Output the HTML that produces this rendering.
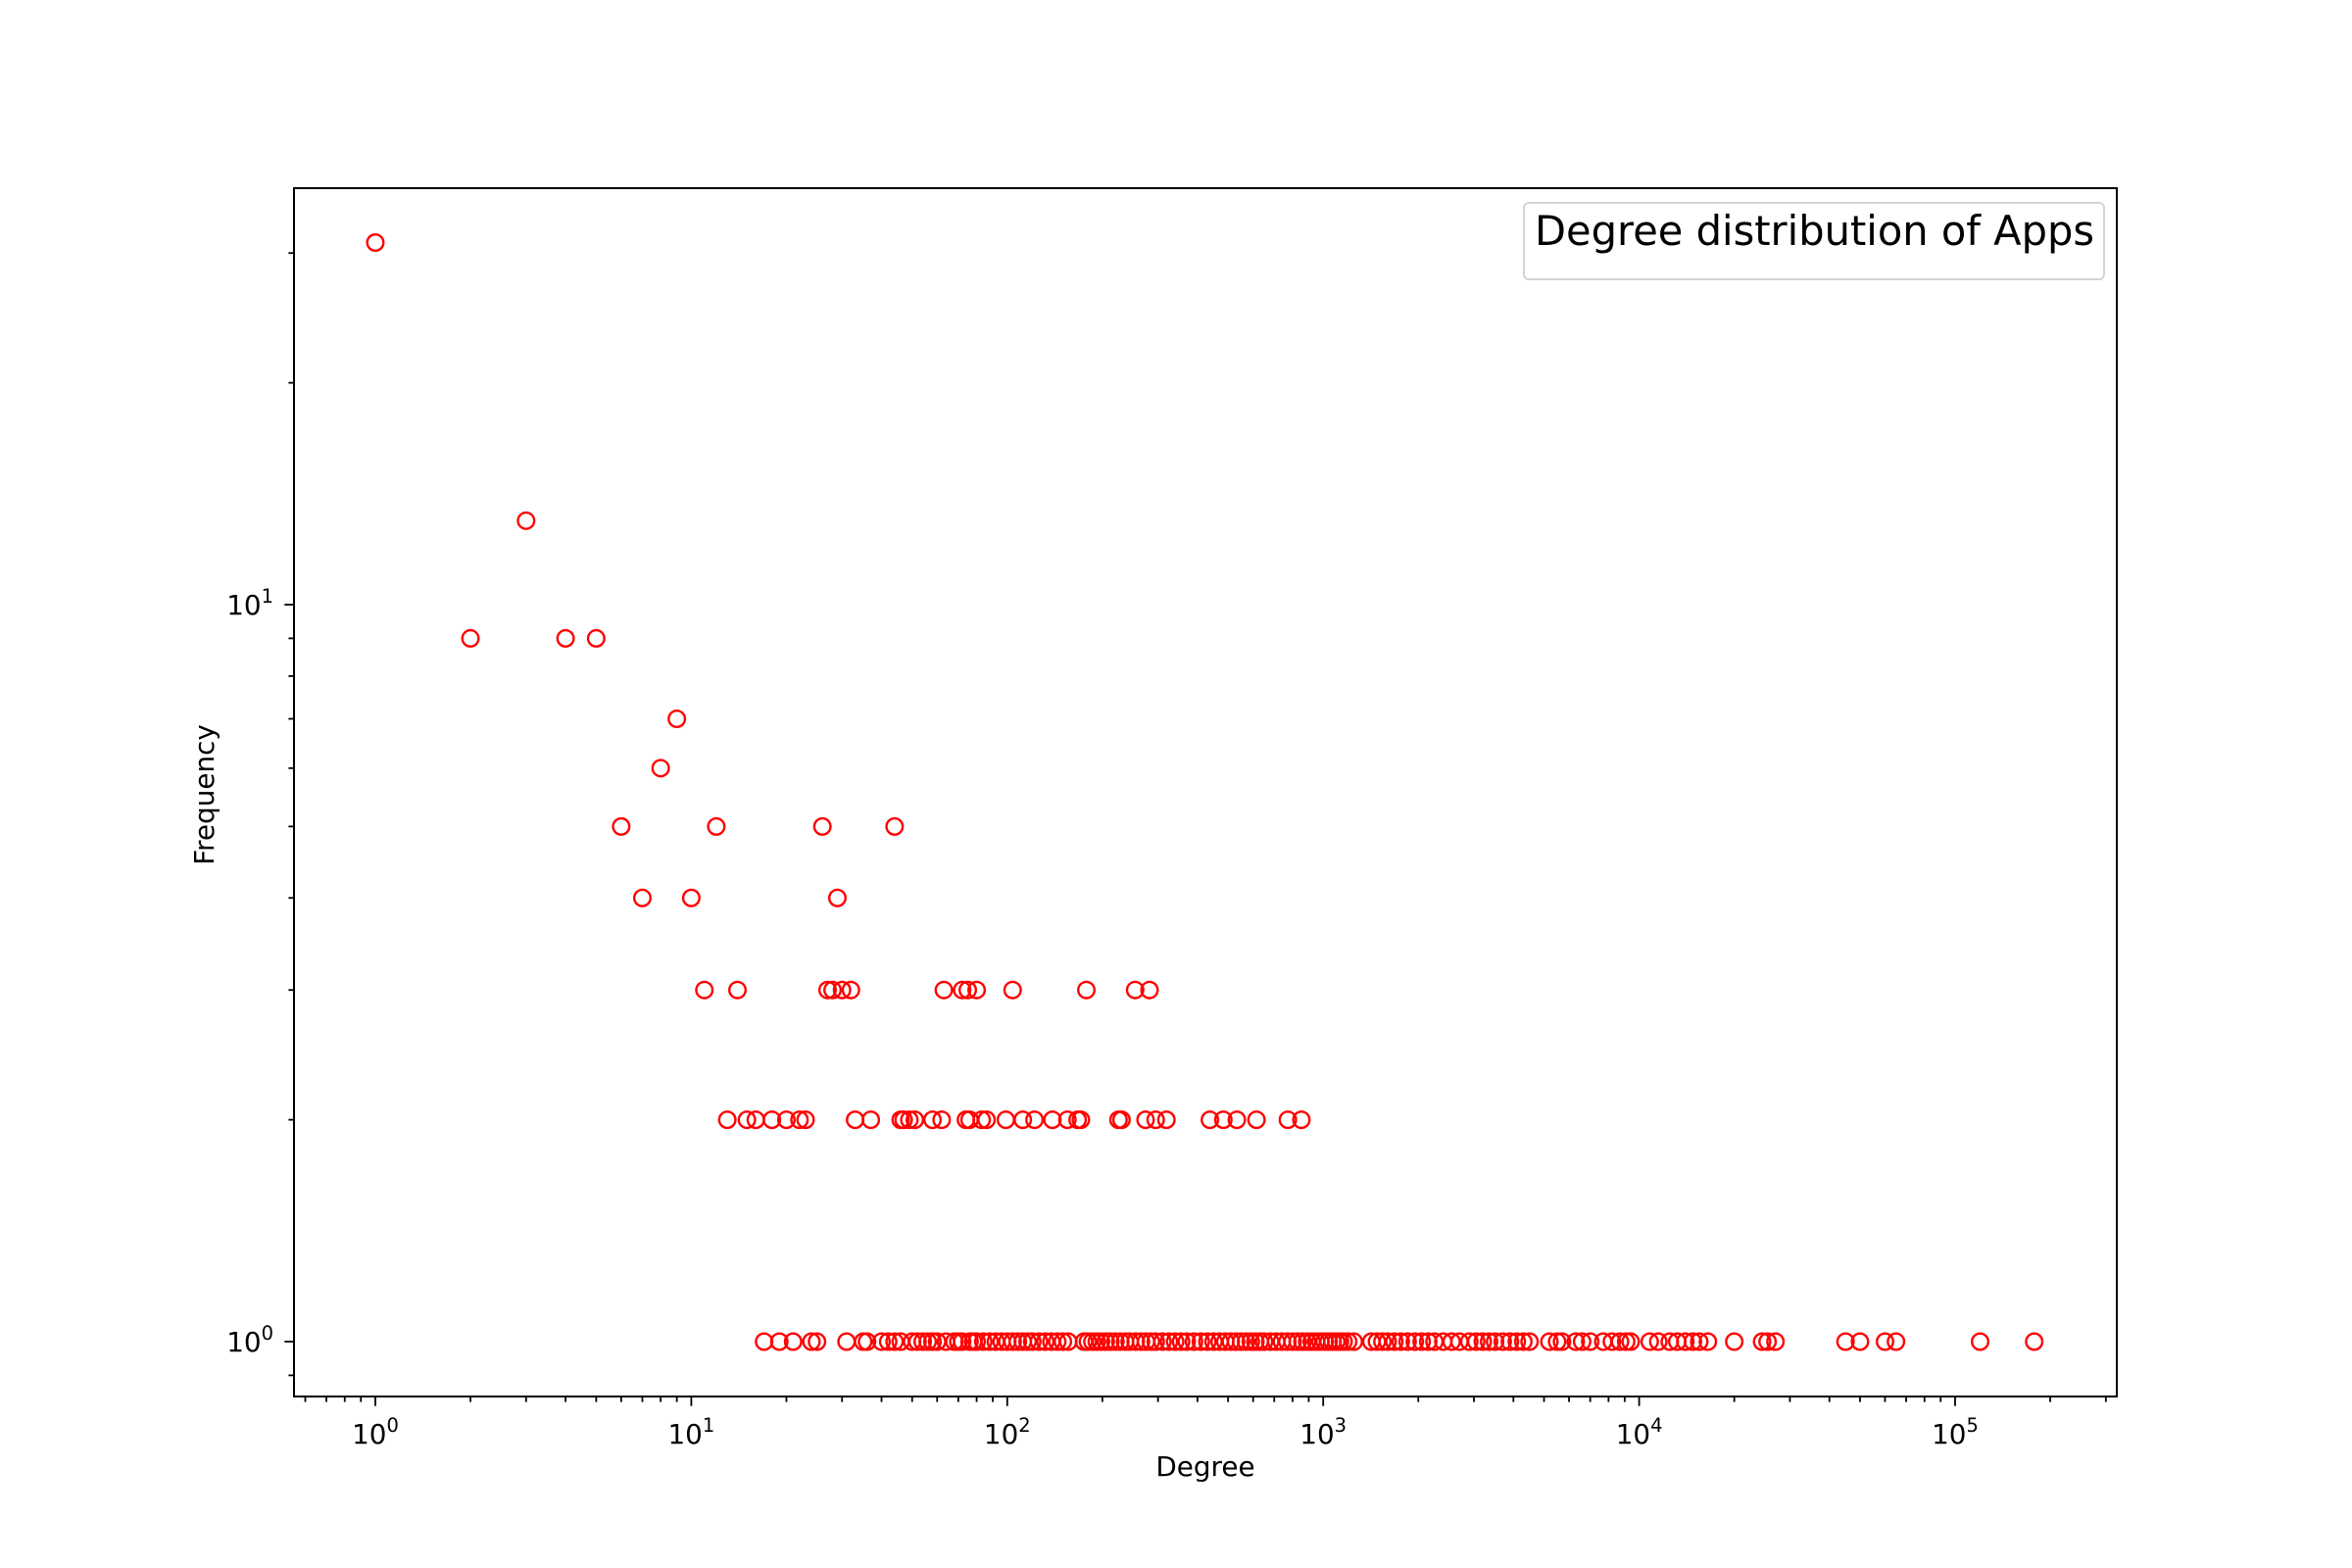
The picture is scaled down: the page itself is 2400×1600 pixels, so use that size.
<!DOCTYPE html>
<html><head><meta charset="utf-8"><style>
html,body{margin:0;padding:0;background:#fff;}
svg{display:block;font-family:"DejaVu Sans","Liberation Sans",sans-serif;}
</style></head><body>
<svg id="chart" width="2400" height="1600" viewBox="0 0 2400 1600" xmlns="http://www.w3.org/2000/svg">
<rect width="2400" height="1600" fill="#fff"/>
<g id="ticks"></g>
<g id="marks"></g>
<rect x="300" y="192" width="1860" height="1233" fill="none" stroke="#000" stroke-width="2"/>
<text x="1230" y="1506" font-size="27.8" text-anchor="middle">Degree</text>
<text transform="translate(218,811) rotate(-90)" font-size="27.8" text-anchor="middle">Frequency</text>
<g>
<rect x="1555" y="207" width="592" height="78" rx="5" fill="#fff" stroke="#d4d4d4" stroke-width="2"/>
<text x="1566" y="250" font-size="41.6">Degree distribution of Apps</text>
</g>
</svg>
<script>
// data
const freqLevels = [31, 9, 13, 9, 9, 5, 4, 6, 7, 4, 3, 5, 3, 5, 4, 5, 3, 3, 3, 3, 3, 3, 3, 3, 3, 3, 3];
const degreesHigh = [1, 2, 3, 4, 5, 6, 7, 8, 9, 10, 11, 12, 14, 26, 29, 44, 27, 28, 30, 32, 63, 72, 75, 80, 104, 178, 254];
const degreesHighExtra = [282];
const degreesFreq2 = [13,15,16,18,20,22,23,33,37,46,47,49,51,58,62,74,76,83,86,99,112,122,139,155,167,171,225,230,274,295,319,438,483,533,615,773,853];
const degreesFreq1 = [17,19,21,24,25,31,35,36,40,42,44,46,50,52,54,56,58,60,64,68,70,72,76,78,80,84,88,92,96,100,104,108,112,116,120,126,132,138,144,150,156,175,180,186,192,198,205,212,220,228,236,244,255,265,275,285,295,310,325,340,355,370,390,410,430,450,470,490,510,530,550,570,590,610,630,650,680,710,740,770,800,830,860,890,920,950,980,1010,1040,1070,1100,1130,1160,1200,1250,1420,1480,1540,1600,1680,1760,1850,1950,2050,2150,2250,2400,2550,2700,2900,3050,3200,3350,3500,3700,3900,4100,4300,4500,5200,5500,5700,6300,6600,7000,7700,8200,8700,9100,9400,10800,11500,12500,13200,14000,14800,15500,16500,20000,24500,25500,27000,45000,50000,60000,65000,120000,178000];
const xTickExps = [0,1,2,3,4,5];
const yTickExps = [0,1];

const NS = "http://www.w3.org/2000/svg";
function xs(v){ return 383 + Math.log10(v) * 322.4; }
function ys(v){ return 1369 - Math.log10(v) * 752; }

const ticks = document.getElementById('ticks');
const marks = document.getElementById('marks');
function line(x1,y1,x2,y2){
  const l = document.createElementNS(NS,'line');
  l.setAttribute('x1',x1);l.setAttribute('y1',y1);l.setAttribute('x2',x2);l.setAttribute('y2',y2);
  l.setAttribute('stroke','#000');l.setAttribute('stroke-width','1.8');
  ticks.appendChild(l);
  return l;
}
for (let e = -1; e <= 5; e++) {
  for (let m = 1; m <= 9; m++) {
    const v = m * Math.pow(10, e);
    const x = xs(v);
    if (x < 300 || x > 2160) continue;
    const major = m === 1;
    const t = line(x, 1425, x, 1425 + (major ? 9.7 : 5.6));
    
    
  }
}
xTickExps.forEach(e => {
  const t = document.createElementNS(NS,'text');
  t.setAttribute('x', xs(Math.pow(10,e)));
  t.setAttribute('y', 1473);
  t.setAttribute('font-size','27.8');
  t.setAttribute('text-anchor','middle');
  t.innerHTML = '10<tspan font-size="19.5" dy="-12">' + e + '</tspan>';
  
  
  ticks.appendChild(t);
});
for (let e = -1; e <= 1; e++) {
  for (let m = 1; m <= 9; m++) {
    const v = m * Math.pow(10, e);
    const y = ys(v);
    if (y < 192 || y > 1425) continue;
    const major = m === 1;
    const t = line(300 - (major ? 9.7 : 5.6), y, 300, y);
    
    
  }
}
yTickExps.forEach(e => {
  const t = document.createElementNS(NS,'text');
  t.setAttribute('x', 279);
  t.setAttribute('y', ys(Math.pow(10,e)) + 10);
  t.setAttribute('font-size','27.8');
  t.setAttribute('text-anchor','end');
  t.innerHTML = '10<tspan font-size="19.5" dy="-12">' + e + '</tspan>';
  
  
  ticks.appendChild(t);
});
function pt(d, f){
  const c = document.createElementNS(NS,'circle');
  c.setAttribute('cx', xs(d));
  c.setAttribute('cy', ys(f));
  c.setAttribute('r', '8.3');
  c.setAttribute('fill', 'none');
  c.setAttribute('stroke', '#ff0000');
  c.setAttribute('stroke-width', '2.4');
  
  
  marks.appendChild(c);
}
degreesHigh.forEach((d,i) => pt(d, freqLevels[i]));
degreesHighExtra.forEach(d => pt(d, 3));
degreesFreq2.forEach(d => pt(d, 2));
degreesFreq1.forEach(d => pt(d, 1));
</script>
</body></html>
